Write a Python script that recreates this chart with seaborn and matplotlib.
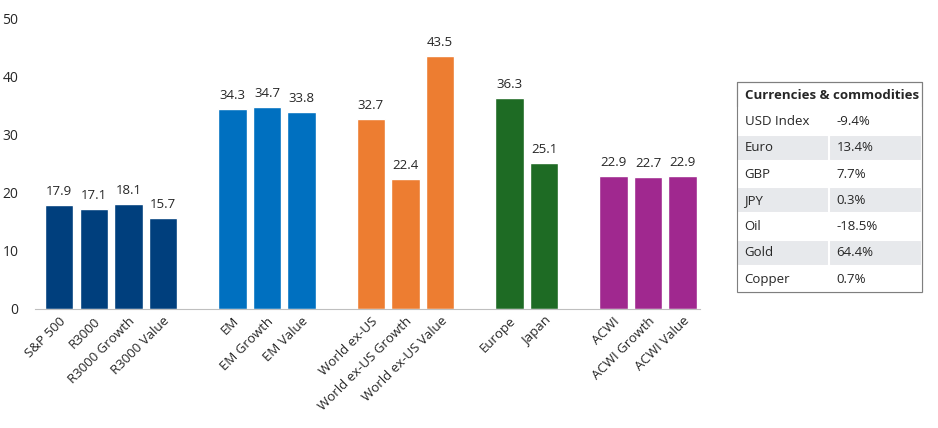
import pandas as pd
import matplotlib.pyplot as plt
import seaborn as sns

sns.set_style("white")
plt.rcParams['font.family'] = ['Segoe UI', 'DejaVu Sans']
plt.rcParams['font.family'] = ['Open Sans', 'DejaVu Sans']

# Data
labels = ['S&P 500', 'R3000', 'R3000 Growth', 'R3000 Value',
          'EM', 'EM Growth', 'EM Value',
          'World ex-US', 'World ex-US Growth', 'World ex-US Value',
          'Europe', 'Japan',
          'ACWI', 'ACWI Growth', 'ACWI Value']
values = [17.9, 17.1, 18.1, 15.7,
          34.3, 34.7, 33.8,
          32.7, 22.4, 43.5,
          36.3, 25.1,
          22.9, 22.7, 22.9]
groups = ['US'] * 4 + ['EM'] * 3 + ['WXUS'] * 3 + ['EU'] * 2 + ['ACWI'] * 3
positions = [0, 1, 2, 3, 5, 6, 7, 9, 10, 11, 13, 14, 16, 17, 18]
palette = {'US': '#003F7D', 'EM': '#0070C0', 'WXUS': '#ED7D31',
           'EU': '#1E6B24', 'ACWI': '#A0288F'}

table_names = ['USD Index', 'Euro', 'GBP', 'JPY', 'Oil', 'Gold', 'Copper']
table_vals = ['-9.4%', '13.4%', '7.7%', '0.3%', '-18.5%', '64.4%', '0.7%']

df = pd.DataFrame({'pos': positions, 'val': values, 'group': groups})

fig = plt.figure(figsize=(9.38, 4.28), dpi=100)
ax = fig.add_axes([35 / 938, 1 - 309 / 428, 665 / 938, 291 / 428])
sns.barplot(data=df, x='pos', y='val', hue='group', palette=palette,
            native_scale=True, width=0.82, legend=False, ax=ax, saturation=1)

for p, v in zip(positions, values):
    ax.text(p, v + 1.2, f'{v:.1f}', ha='center', va='bottom', fontsize=9.5)

ax.set_xlim(-0.7, 18.5)
ax.set_ylim(0, 50)
ax.set_yticks(range(0, 51, 10))
ax.tick_params(axis='y', labelsize=10, length=0, pad=12)
ax.set_xticks(positions)
ax.set_xticklabels(labels, rotation=45, ha='right', rotation_mode='anchor', fontsize=9.5)
ax.tick_params(axis='x', length=0, pad=4)
ax.set_xlabel('')
ax.set_ylabel('')
for s in ['top', 'right', 'left']:
    ax.spines[s].set_visible(False)
ax.spines['bottom'].set_color('#BFBFBF')

# Table
tx0, tx1, tmid = 737 / 938, 922 / 938, 829 / 938
ty_top = 1 - 82 / 428
rh = 26.3 / 428
fig.patches.append(plt.Rectangle((tx0, ty_top - 8 * rh), tx1 - tx0, 8 * rh,
                                 transform=fig.transFigure, fill=False,
                                 edgecolor='#7F7F7F', lw=0.8))
fig.text(tx0 + 0.008, ty_top - rh / 2, 'Currencies & commodities',
         fontsize=9.5, fontweight='bold', va='center')
for i, (n, v) in enumerate(zip(table_names, table_vals)):
    y0 = ty_top - (i + 2) * rh
    fc = '#E7E9EC' if i % 2 == 1 else 'white'
    for x0, w in [(tx0, tmid - tx0), (tmid, tx1 - tmid)]:
        fig.patches.append(plt.Rectangle((x0, y0), w, rh, transform=fig.transFigure,
                                         facecolor=fc, edgecolor='white', lw=1.5))
    fig.text(tx0 + 0.008, y0 + rh / 2, n, fontsize=9.5, va='center')
    fig.text(tmid + 0.008, y0 + rh / 2, v, fontsize=9.5, va='center')
fig.patches.append(plt.Rectangle((tx0, ty_top - 8 * rh), tx1 - tx0, 8 * rh,
                                 transform=fig.transFigure, fill=False,
                                 edgecolor='#7F7F7F', lw=0.8))

plt.savefig('out.png', dpi=100)
